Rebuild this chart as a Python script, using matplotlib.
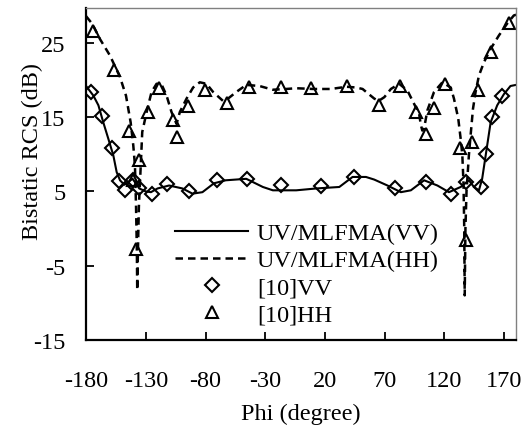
import numpy as np
import matplotlib
matplotlib.use("Agg")
import matplotlib.pyplot as plt
from matplotlib import font_manager

names = set(f.name for f in font_manager.fontManager.ttflist)
serif = [n for n in ['Liberation Serif', 'Times New Roman', 'DejaVu Serif'] if n in names]
plt.rcParams['font.family'] = serif
plt.rcParams['font.size'] = 17.5
plt.rcParams['axes.unicode_minus'] = False

# UV/MLFMA curves (phi in degree, RCS in dB)
vv_phi = [-180, -173.9, -169.7, -165.6, -161.4, -157.2, -154.4, -151.6, -148, -144.5,
          -141.1, -138, -135.5, -130, -125.7, -120.2, -110.5, -99.3, -90.9, -82.6,
          -72.9, -63.1, -45.9, -32, -23.6, -4.1, 12.6, 32, 43.1, 54.3,
          61.2, 72.3, 83.5, 91.9, 103, 114.1, 123.8, 133.6, 140.5, 144.7,
          148.9, 151.6, 154.5, 158.7, 164.2, 169.8, 175.3, 180]
vv_rcs = [19.2, 17.9, 16.6, 14.3, 12.1, 9.85, 7.6, 6.5, 5.9, 6.3,
          6.7, 6.0, 5.4, 5.0, 4.9, 5.4, 5.8, 5.4, 4.7, 4.9,
          6.1, 6.5, 6.7, 5.6, 5.15, 5.15, 5.4, 5.6, 6.95, 6.95,
          6.6, 5.8, 4.9, 5.15, 6.5, 5.8, 4.9, 5.6, 6.5, 5.6,
          5.15, 6.7, 9.8, 14.3, 16.6, 18.1, 19.2, 19.35]

hh_phi = [-180, -175, -168.3, -160, -151.6, -146.6, -142.7, -140.5, -139.1, -138.2,
          -137.5, -137.2, -136.6, -135.8, -134.1, -133.0, -129.3, -125.2, -121, -116.8,
          -112.6, -108.5, -104.3, -101.5, -95.9, -90.4, -84.8, -79.2, -73.7, -65.4,
          -61.2, -54.2, -45.9, -34.8, -23.7, -12.5, -4.1, 10, 25, 38,
          46, 51.5, 56, 61.3, 65, 69.7, 75.2, 82.1, 89, 94.6,
          98.8, 100.2, 101.5, 103, 105.7, 111.3, 118.3, 125.3, 128, 131.6,
          133.6, 135, 136, 136.6, 137, 137.6, 138.5, 140.5, 141.9, 143.9,
          146.1, 148.9, 153.1, 158.7, 165.6, 172.5, 178.1, 180]
hh_rcs = [28.6, 27.6, 25.5, 23.3, 20.4, 17.9, 14.3, 11.2, 8.5, 3,
          -3, -8.3, -3, 3, 9.0, 13.0, 15.7, 18.4, 19.5, 19.4,
          17.9, 15.7, 14.1, 15.7, 17.5, 19.0, 19.7, 19.5, 18.4, 17.2,
          17.5, 18.4, 19.35, 19.2, 18.7, 18.8, 18.9, 18.8, 18.8, 19.1,
          19.0, 18.8, 18.2, 17.5, 17.2, 17.7, 18.8, 19.5, 18.6, 16.8,
          15.5, 14.0, 13.2, 13.5, 15.9, 18.4, 19.7, 19.0, 17.5, 14.8,
          12.1, 9.9, 6, 0, -9.0, 0, 5, 9.9, 12.5, 16.1,
          18.4, 20.6, 22.4, 24.2, 26.0, 27.6, 28.7, 28.8]

# reference [10] data
ref_vv_phi = [-176.1, -166.9, -158.5, -152.2, -147.4, -140.5, -135.5, -125.2, -112.1, -93.8,
              -70.1, -45.4, -17.2, 16.7, 44.0, 78.5, 104.4, 125.3, 137.8, 150.3,
              154.5, 160.0, 168.3]
ref_vv_rcs = [18.4, 15.2, 10.85, 6.4, 5.2, 6.6, 5.5, 4.6, 6.05, 5.0,
              6.5, 6.7, 5.8, 5.7, 6.9, 5.4, 6.3, 4.7, 6.3, 5.6,
              10.1, 15.0, 17.9]
ref_hh_phi = [-174.4, -156.4, -143.9, -141.0, -138.5, -135.5, -128.5, -119.3, -107.1, -104.3,
              -94.6, -80.7, -62.1, -43.9, -17.2, 8.4, 38.4, 65.4, 82.9, 96.0,
              104.4, 111.3, 120.3, 133.0, 137.8, 142.8, 148.0, 158.6, 173.9]
ref_hh_rcs = [26.65, 21.4, 13.2, 6.5, -2.8, 9.2, 15.7, 18.9, 14.6, 12.3,
              16.5, 18.7, 16.9, 19.0, 19.0, 18.9, 19.2, 16.7, 19.2, 15.7,
              12.8, 16.2, 19.5, 10.8, -1.6, 11.7, 18.7, 23.75, 27.7]

xticks = np.arange(-180, 171, 50)
yticks = [-15, -5, 5, 15, 25]

fig = plt.figure(figsize=(5.25, 4.31), dpi=100)
ax = fig.add_axes([0.164, 0.209, 0.819, 0.770])

ax.plot(vv_phi, vv_rcs, 'k-', lw=1.5, label='UV/MLFMA(VV)')
ax.plot(hh_phi, hh_rcs, 'k--', lw=1.8, dashes=(3, 2), label='UV/MLFMA(HH)')
ax.plot(ref_vv_phi, ref_vv_rcs, 'D', mfc='none', mec='k', mew=1.5, ms=7, ls='none', label='[10]VV')
ax.plot(ref_hh_phi, ref_hh_rcs, '^', mfc='none', mec='k', mew=1.5, ms=9, ls='none', label='[10]HH')

ax.set_xlim(-180, 180)
ax.set_ylim(-15, 29.7)
ax.set_xticks(xticks)
ax.set_yticks(yticks)
ax.tick_params(direction='in', length=6, width=1.3, top=False, right=False)
ax.tick_params(axis='x', pad=22)
ax.tick_params(axis='y', pad=15)

for s in ['left', 'bottom']:
    ax.spines[s].set_linewidth(1.6)
    ax.spines[s].set_color('k')
for s in ['top', 'right']:
    ax.spines[s].set_linewidth(1.0)
    ax.spines[s].set_color('#808080')

ax.set_xlabel('Phi (degree)', labelpad=8)
ax.set_ylabel('Bistatic RCS (dB)')
ax.yaxis.set_label_coords(-0.10, 0.572)

ax.legend(loc='upper left', bbox_to_anchor=(0.207, 0.354), frameon=False,
          borderpad=0, borderaxespad=0, handlelength=3.0, handletextpad=0.37,
          labelspacing=0.2)

fig.savefig('out.png', dpi=100)
